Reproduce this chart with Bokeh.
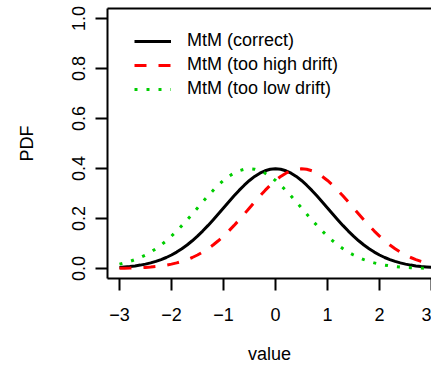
from bokeh.plotting import figure
from bokeh.models import Range1d, LinearAxis, FixedTicker
from bokeh.embed import file_html
from bokeh.resources import INLINE

# ---- data ----
x_vals = [-3.0, -2.9, -2.8, -2.7, -2.6, -2.5, -2.4, -2.3, -2.2, -2.1,
          -2.0, -1.9, -1.8, -1.7, -1.6, -1.5, -1.4, -1.3, -1.2, -1.1,
          -1.0, -0.9, -0.8, -0.7, -0.6, -0.5, -0.4, -0.3, -0.2, -0.1,
          0.0, 0.1, 0.2, 0.3, 0.4, 0.5, 0.6, 0.7, 0.8, 0.9,
          1.0, 1.1, 1.2, 1.3, 1.4, 1.5, 1.6, 1.7, 1.8, 1.9,
          2.0, 2.1, 2.2, 2.3, 2.4, 2.5, 2.6, 2.7, 2.8, 2.9, 3.0]

pdf_correct = [0.0044, 0.0060, 0.0079, 0.0104, 0.0136, 0.0175, 0.0224, 0.0283, 0.0355, 0.0440,
               0.0540, 0.0656, 0.0790, 0.0940, 0.1109, 0.1295, 0.1497, 0.1714, 0.1942, 0.2179,
               0.2420, 0.2661, 0.2897, 0.3123, 0.3332, 0.3521, 0.3683, 0.3814, 0.3910, 0.3970,
               0.3989, 0.3970, 0.3910, 0.3814, 0.3683, 0.3521, 0.3332, 0.3123, 0.2897, 0.2661,
               0.2420, 0.2179, 0.1942, 0.1714, 0.1497, 0.1295, 0.1109, 0.0940, 0.0790, 0.0656,
               0.0540, 0.0440, 0.0355, 0.0283, 0.0224, 0.0175, 0.0136, 0.0104, 0.0079, 0.0060, 0.0044]

pdf_high = [0.0009, 0.0012, 0.0017, 0.0024, 0.0033, 0.0044, 0.0060, 0.0079, 0.0104, 0.0136,
            0.0175, 0.0224, 0.0283, 0.0355, 0.0440, 0.0540, 0.0656, 0.0790, 0.0940, 0.1109,
            0.1295, 0.1497, 0.1714, 0.1942, 0.2179, 0.2420, 0.2661, 0.2897, 0.3123, 0.3332,
            0.3521, 0.3683, 0.3814, 0.3910, 0.3970, 0.3989, 0.3970, 0.3910, 0.3814, 0.3683,
            0.3521, 0.3332, 0.3123, 0.2897, 0.2661, 0.2420, 0.2179, 0.1942, 0.1714, 0.1497,
            0.1295, 0.1109, 0.0940, 0.0790, 0.0656, 0.0540, 0.0440, 0.0355, 0.0283, 0.0224, 0.0175]

pdf_low = [0.0175, 0.0224, 0.0283, 0.0355, 0.0440, 0.0540, 0.0656, 0.0790, 0.0940, 0.1109,
           0.1295, 0.1497, 0.1714, 0.1942, 0.2179, 0.2420, 0.2661, 0.2897, 0.3123, 0.3332,
           0.3521, 0.3683, 0.3814, 0.3910, 0.3970, 0.3989, 0.3970, 0.3910, 0.3814, 0.3683,
           0.3521, 0.3332, 0.3123, 0.2897, 0.2661, 0.2420, 0.2179, 0.1942, 0.1714, 0.1497,
           0.1295, 0.1109, 0.0940, 0.0790, 0.0656, 0.0540, 0.0440, 0.0355, 0.0283, 0.0224,
           0.0175, 0.0136, 0.0104, 0.0079, 0.0060, 0.0044, 0.0033, 0.0024, 0.0017, 0.0012, 0.0009]

series_labels = ["MtM (correct)", "MtM (too high drift)", "MtM (too low drift)"]

x_ticks = [-3, -2, -1, 0, 1, 2, 3]
x_tick_labels = ["\u22123", "\u22122", "\u22121", "0", "1", "2", "3"]
y_ticks = [0.0, 0.2, 0.4, 0.6, 0.8, 1.0]
y_tick_labels = ["0.0", "0.2", "0.4", "0.6", "0.8", "1.0"]

FONT = "Liberation Sans"
FS = "18px"

p = figure(width=431, height=366, output_backend="svg", toolbar_location=None,
           x_range=Range1d(-3.23, 3.0), y_range=Range1d(-0.04, 1.04),
           min_border_left=107, min_border_right=0, min_border_top=8, min_border_bottom=87,
           x_axis_label="value", y_axis_label="PDF")
p.outline_line_color = None
p.grid.visible = False
p.background_fill_color = "white"
p.border_fill_color = "white"

p.line(x_vals, pdf_correct, line_color="black", line_width=3, line_join="round",
       legend_label=series_labels[0])
p.line(x_vals, pdf_high, line_color="#FF0000", line_width=3, line_dash="12 12",
       legend_label=series_labels[1])
p.line(x_vals, pdf_low, line_color="#00CD00", line_width=3, line_dash="3 9",
       legend_label=series_labels[2])

for ax in (p.xaxis[0], p.yaxis[0]):
    ax.axis_line_color = "black"
    ax.axis_line_width = 2
    ax.major_tick_line_color = "black"
    ax.major_tick_line_width = 2
    ax.major_tick_out = 12
    ax.major_tick_in = 0
    ax.minor_tick_out = 0
    ax.minor_tick_in = 0
    ax.major_label_text_font = FONT
    ax.major_label_text_font_size = FS
    ax.major_label_text_color = "black"
    ax.axis_label_text_font = FONT
    ax.axis_label_text_font_size = FS
    ax.axis_label_text_font_style = "normal"
    ax.axis_label_text_color = "black"

p.xaxis.ticker = FixedTicker(ticks=x_ticks)
p.xaxis.major_label_overrides = dict(zip(x_ticks, x_tick_labels))
p.xaxis.major_label_standoff = 17
p.xaxis.axis_label_standoff = 20

p.yaxis.ticker = FixedTicker(ticks=y_ticks)
p.yaxis.major_label_overrides = dict(zip(y_ticks, y_tick_labels))
p.yaxis.major_label_orientation = "vertical"
p.yaxis.major_label_standoff = 11
p.yaxis.axis_label_standoff = 32

top_axis = LinearAxis(ticker=FixedTicker(ticks=[]), major_label_text_font_size="0px",
                      major_tick_out=0, major_tick_in=0, minor_tick_out=0, minor_tick_in=0,
                      major_label_standoff=0, axis_line_color="black", axis_line_width=2)
p.add_layout(top_axis, "above")

lg = p.legend[0]
lg.location = (27, 179)
lg.margin = 0
lg.padding = 0
lg.border_line_color = None
lg.background_fill_alpha = 0
lg.glyph_width = 37
lg.glyph_height = 20
lg.label_height = 20
lg.label_standoff = 16
lg.spacing = 3
lg.label_text_font = FONT
lg.label_text_font_size = FS
lg.label_text_color = "black"

open("out.html", "w").write(file_html(p, INLINE))
